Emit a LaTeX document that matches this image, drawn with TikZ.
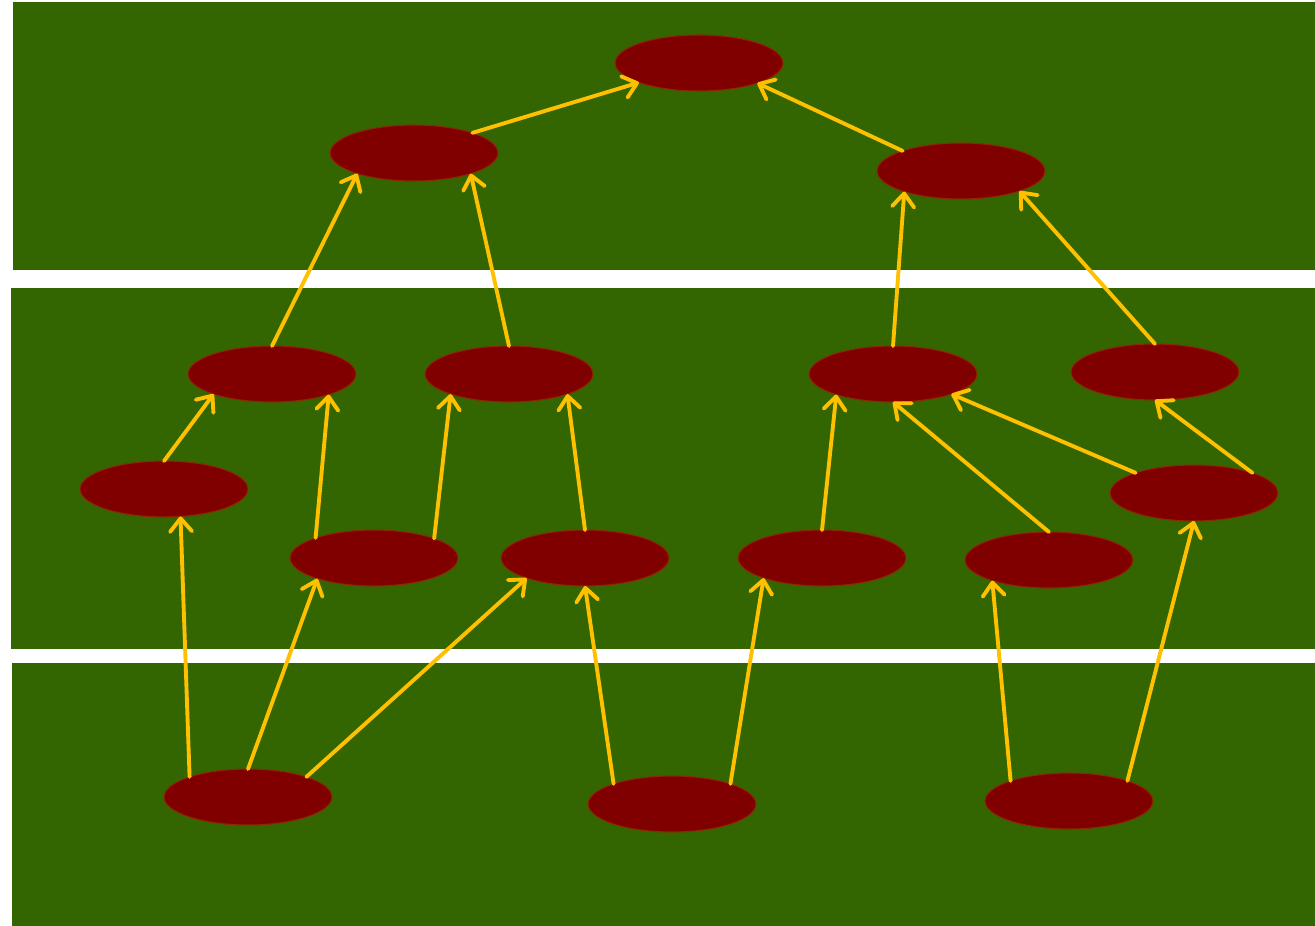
\documentclass[tikz,border=0pt]{standalone}
\usetikzlibrary{shapes.geometric,arrows.meta}
\definecolor{bandgreen}{HTML}{336600}
\definecolor{nodered}{HTML}{800000}
\definecolor{nodeedge}{HTML}{8A2A00}
\definecolor{edgeyellow}{HTML}{FFC000}
\tikzset{
  band/.style={fill=bandgreen, draw=none},
  blob/.style={ellipse, fill=nodered, draw=nodeedge, line width=0.6pt,
    minimum width=3.36cm, minimum height=1.12cm, inner sep=0pt, outer sep=0pt},
  link/.style={draw=edgeyellow, line width=2.2pt, line cap=round,
    -{Straight Barb[length=7.5pt,width=12.5pt,line cap=round,line join=round]}}
}
\begin{document}
\begin{tikzpicture}[x=0.02cm,y=-0.02cm]
\useasboundingbox (0,0) rectangle (1315,926);
\fill[white] (0,0) rectangle (1315,926);
% bands
\path[band] (13,2) rectangle (1315,270);
\path[band] (11,288) rectangle (1315,649);
\path[band] (12,663) rectangle (1315,926);
% nodes
\node[blob] (A) at (699,63) {};
\node[blob] (B) at (414,153) {};
\node[blob] (C) at (961,171) {};
\node[blob] (D) at (272,374) {};
\node[blob] (E) at (509,374) {};
\node[blob] (F) at (893,374) {};
\node[blob] (G) at (1155,372) {};
\node[blob] (H) at (164,489) {};
\node[blob] (I) at (374,558) {};
\node[blob] (J) at (585,558) {};
\node[blob] (K) at (822,558) {};
\node[blob] (L) at (1049,560) {};
\node[blob] (M) at (1194,493) {};
\node[blob] (N) at (248,797) {};
\node[blob] (O) at (672,804) {};
\node[blob] (P) at (1069,801) {};
% edges
\draw[link] (B.19) -- (A.198);
\draw[link] (C.161) -- (A.341);
\draw[link] (D.90) -- (B.200);
\draw[link] (E.90) -- (B.340);
\draw[link] (F.90) -- (C.200);
\draw[link] (G.90) -- (C.341);
\draw[link] (H.90) -- (D.199);
\draw[link] (I.161) -- (D.340);
\draw[link] (I.18) -- (E.199);
\draw[link] (J.90) -- (E.341);
\draw[link] (K.90) -- (F.200);
\draw[link] (L.90) -- (F.270);
\draw[link] (M.161) -- (F.341);
\draw[link] (M.19) -- (G.270);
\draw[link] (N.161) -- (H.301);
\draw[link] (N.90) -- (I.200);
\draw[link] (N.19) -- (J.199);
\draw[link] (O.161) -- (J.270);
\draw[link] (O.19) -- (K.199);
\draw[link] (P.161) -- (L.200);
\draw[link] (P.19) -- (M.270);
\end{tikzpicture}
\end{document}
